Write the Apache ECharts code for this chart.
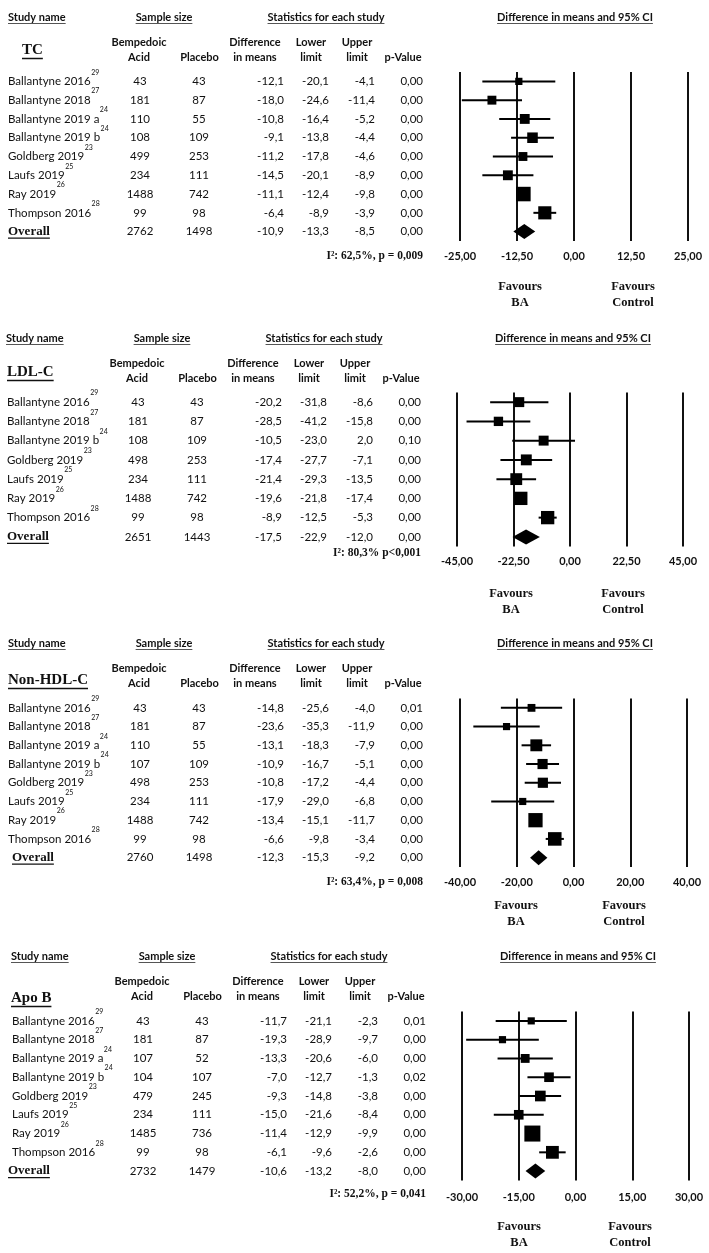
<!DOCTYPE html>
<html><head><meta charset="utf-8">
<script src="https://cdn.jsdelivr.net/npm/echarts@6/dist/echarts.min.js"></script>
<style>html,body{margin:0;padding:0;background:#fff}#c{width:709px;height:1253px}</style>
</head><body><div id="c"></div>
<script>
// ================= DATA =================
// --- TC ---
const tcStudies = ['Ballantyne 2016','Ballantyne 2018','Ballantyne 2019 a','Ballantyne 2019 b','Goldberg 2019','Laufs 2019','Ray 2019','Thompson 2016','Overall'];
const tcRefs = ['29','27','24','24','23','25','26','28',''];
const tcNBA = [43,181,110,108,499,234,1488,99,2762];
const tcNPl = [43,87,55,109,253,111,742,98,1498];
const tcDiff = [-12.1,-18.0,-10.8,-9.1,-11.2,-14.5,-11.1,-6.4,-10.9];
const tcLower = [-20.1,-24.6,-16.4,-13.8,-17.8,-20.1,-12.4,-8.9,-13.3];
const tcUpper = [-4.1,-11.4,-5.2,-4.4,-4.6,-8.9,-9.8,-3.9,-8.5];
const tcP = [0,0,0,0,0,0,0,0,0];
const tcWeight = [5.8,8.8,10.8,12.4,8.8,10.8,23.4,19.2];
const tcTicks = [-25,-12.5,0,12.5,25];
const tcHet = 'I²: 62,5%, p = 0,009';

// --- LDL-C ---
const ldlStudies = ['Ballantyne 2016','Ballantyne 2018','Ballantyne 2019 b','Goldberg 2019','Laufs 2019','Ray 2019','Thompson 2016','Overall'];
const ldlRefs = ['29','27','24','23','25','26','28',''];
const ldlNBA = [43,181,108,498,234,1488,99,2651];
const ldlNPl = [43,87,109,253,111,742,98,1443];
const ldlDiff = [-20.2,-28.5,-10.5,-17.4,-21.4,-19.6,-8.9,-17.5];
const ldlLower = [-31.8,-41.2,-23.0,-27.7,-29.3,-21.8,-12.5,-22.9];
const ldlUpper = [-8.6,-15.8,2.0,-7.1,-13.5,-17.4,-5.3,-12.0];
const ldlP = [0,0,0.10,0,0,0,0,0];
const ldlWeight = [11.0,9.7,11.0,13.2,15.6,19.7,19.7];
const ldlTicks = [-45,-22.5,0,22.5,45];
const ldlHet = 'I²: 80,3% p<0,001';

// --- Non-HDL-C ---
const nhStudies = ['Ballantyne 2016','Ballantyne 2018','Ballantyne 2019 a','Ballantyne 2019 b','Goldberg 2019','Laufs 2019','Ray 2019','Thompson 2016','Overall'];
const nhRefs = ['29','27','24','24','23','25','26','28',''];
const nhNBA = [43,181,110,107,498,234,1488,99,2760];
const nhNPl = [43,87,55,109,253,111,742,98,1498];
const nhDiff = [-14.8,-23.6,-13.1,-10.9,-10.8,-17.9,-13.4,-6.6,-12.3];
const nhLower = [-25.6,-35.3,-18.3,-16.7,-17.2,-29.0,-15.1,-9.8,-15.3];
const nhUpper = [-4.0,-11.9,-7.9,-5.1,-4.4,-6.8,-11.7,-3.4,-9.2];
const nhP = [0.01,0,0,0,0,0,0,0,0];
const nhWeight = [6.8,5.7,15.8,11.5,11.5,5.7,22.6,20.4];
const nhTicks = [-40,-20,0,20,40];
const nhHet = 'I²: 63,4%, p = 0,008';

// --- Apo B ---
const apoStudies = ['Ballantyne 2016','Ballantyne 2018','Ballantyne 2019 a','Ballantyne 2019 b','Goldberg 2019','Laufs 2019','Ray 2019','Thompson 2016','Overall'];
const apoRefs = ['29','27','24','24','23','25','26','28',''];
const apoNBA = [43,181,107,104,479,234,1485,99,2732];
const apoNPl = [43,87,52,107,245,111,736,98,1479];
const apoDiff = [-11.7,-19.3,-13.3,-7.0,-9.3,-15.0,-11.4,-6.1,-10.6];
const apoLower = [-21.1,-28.9,-20.6,-12.7,-14.8,-21.6,-12.9,-9.6,-13.2];
const apoUpper = [-2.3,-9.7,-6.0,-1.3,-3.8,-8.4,-9.9,-2.6,-8.0];
const apoP = [0.01,0,0,0.02,0,0,0,0,0];
const apoWeight = [5.7,5.7,8.7,10.3,12.7,10.3,28.5,18.2];
const apoTicks = [-30,-15,0,15,30];
const apoHet = 'I²: 52,2%, p = 0,041';

const panelLabels = ['TC','LDL-C','Non-HDL-C','Apo B'];

// ================= LAYOUT =================
const INK = '#111';
const SANS = 'Lato';
const SERIF = '"Liberation Serif"';
const fSans = '11.5px ' + SANS;
const fSansB = 'bold 11px ' + SANS;
const fSup = '7px ' + SANS;
const fLabel = 'bold 15px ' + SERIF;
const fOverall = 'bold 13px ' + SERIF;
const fHet = 'bold 11.5px ' + SERIF;
const fFav = 'bold 12.5px ' + SERIF;

const layouts = [
  {head:17, sub1:42, sub2:57, labelX:22, labelY:50, top:72, bottom:241, left:460, right:688, hetY:256, tickMargin:10, favY:[287,303], favX:[520,633], dx:0, ovX:8, nameX:8},
  {head:338, sub1:363, sub2:378, labelX:7, labelY:372, top:392.5, bottom:546.5, left:457, right:683, hetY:553, tickMargin:9, favY:[594,610], favX:[511,623], dx:-2, ovX:7, nameX:7},
  {head:643, sub1:668, sub2:683, labelX:8, labelY:680, top:698.5, bottom:867, left:460, right:687, hetY:882, tickMargin:9.5, favY:[906,922], favX:[516,624], dx:0, ovX:12, nameX:8},
  {head:956, sub1:981, sub2:996, labelX:11, labelY:998, top:1011.5, bottom:1180.5, left:462, right:689, hetY:1194, tickMargin:11, favY:[1227,1243], favX:[519,630], dx:3, ovX:8, nameX:12}
];

const panels = [
  {studies:tcStudies, refs:tcRefs, nBA:tcNBA, nPl:tcNPl, diff:tcDiff, lo:tcLower, hi:tcUpper, p:tcP, w:tcWeight, ticks:tcTicks, het:tcHet},
  {studies:ldlStudies, refs:ldlRefs, nBA:ldlNBA, nPl:ldlNPl, diff:ldlDiff, lo:ldlLower, hi:ldlUpper, p:ldlP, w:ldlWeight, ticks:ldlTicks, het:ldlHet},
  {studies:nhStudies, refs:nhRefs, nBA:nhNBA, nPl:nhNPl, diff:nhDiff, lo:nhLower, hi:nhUpper, p:nhP, w:nhWeight, ticks:nhTicks, het:nhHet},
  {studies:apoStudies, refs:apoRefs, nBA:apoNBA, nPl:apoNPl, diff:apoDiff, lo:apoLower, hi:apoUpper, p:apoP, w:apoWeight, ticks:apoTicks, het:apoHet}
];

// column positions (base, shifted per panel)
const COL = {cBA:140, cPl:199, rDiff:284, rLo:329, rHi:375, rP:423,
             hStudy:8, cSample:164, cStats:326, cCI:575,
             hBA:139, hPl:199.5, hDiff:255, hLo:311, hHi:357, hP:403, rHet:423};

const ctx = document.createElement('canvas').getContext('2d');
function tw(s, font){ ctx.font = font; return ctx.measureText(s).width; }
const fmt1 = v => v.toFixed(1).replace('.', ',');
const fmt2 = v => v.toFixed(2).replace('.', ',');

function txt(x, y, s, font, align, extra){
  return Object.assign({type:'text', x:x, y:y, silent:true,
    style:{text:s, font:font, fill:INK, align:align || 'left', verticalAlign:'middle'}}, extra || {});
}
function ln(x1, y1, x2, y2, w, color){
  return {type:'line', silent:true, shape:{x1:x1, y1:y1, x2:x2, y2:y2}, style:{stroke:color || INK, lineWidth:w}};
}

// ================= OPTION =================
const grids = [], xAxes = [], yAxes = [], series = [], graphics = [];

panels.forEach((P, k) => {
  const L = layouts[k];
  const dx = L.dx;
  grids.push({left:L.left, top:L.top, width:L.right - L.left, height:L.bottom - L.top});
  xAxes.push({
    gridIndex:k, type:'value', min:P.ticks[0], max:P.ticks[P.ticks.length-1],
    interval:P.ticks[1] - P.ticks[0],
    axisLine:{show:false}, axisTick:{show:false},
    splitLine:{show:true, showMinLine:true, showMaxLine:true, lineStyle:{color:INK, width:2}},
    axisLabel:{margin:L.tickMargin, fontFamily:SANS, fontWeight:'bold', fontSize:11, color:INK,
      formatter:v => fmt2(v)}
  });
  yAxes.push({gridIndex:k, type:'category', data:P.studies, inverse:true, show:false});

  const nRows = P.studies.length;
  // forest marks
  series.push({
    type:'custom', xAxisIndex:k, yAxisIndex:k, silent:true, clip:false,
    encode:{x:[0,1,2], y:3},
    data:P.studies.map((s, i) => [P.diff[i], P.lo[i], P.hi[i], i, i < nRows - 1 ? P.w[i] : 0]),
    renderItem:function(params, api){
      const i = params.dataIndex;
      const m = api.coord([api.value(0), api.value(3)]);
      const a = api.coord([api.value(1), api.value(3)]);
      const b = api.coord([api.value(2), api.value(3)]);
      if (i === nRows - 1) {
        const h = 7.5;
        return {type:'polygon', shape:{points:[[a[0], m[1]], [m[0], m[1]-h], [b[0], m[1]], [m[0], m[1]+h]]},
                style:{fill:'#000'}};
      }
      const side = 3.0 * Math.sqrt(api.value(4));
      return {type:'group', children:[
        {type:'line', shape:{x1:a[0], y1:a[1], x2:b[0], y2:b[1]}, style:{stroke:'#000', lineWidth:2}},
        {type:'rect', shape:{x:m[0]-side/2, y:m[1]-side/2, width:side, height:side}, style:{fill:'#000'}}
      ]};
    }
  });

  // table rows
  series.push({
    type:'custom', xAxisIndex:k, yAxisIndex:k, silent:true, clip:false,
    encode:{x:0, y:1},
    data:P.studies.map((s, i) => [P.ticks[0], i]),
    renderItem:function(params, api){
      const i = params.dataIndex;
      const y = api.coord([api.value(0), api.value(1)])[1];
      const ch = [];
      if (i === nRows - 1) {
        ch.push(txt(L.ovX, y, P.studies[i], fOverall, 'left'));
        ch.push(ln(L.ovX, y + 6.5, L.ovX + tw(P.studies[i], fOverall), y + 6.5, 1.3));
      } else {
        ch.push(txt(L.nameX, y, P.studies[i], fSans, 'left'));
        ch.push(txt(L.nameX + tw(P.studies[i], fSans) + 0.5, y - 9, P.refs[i], fSup, 'left'));
      }
      ch.push(txt(COL.cBA + dx, y, String(P.nBA[i]), fSans, 'center'));
      ch.push(txt(COL.cPl + dx, y, String(P.nPl[i]), fSans, 'center'));
      ch.push(txt(COL.rDiff + dx, y, fmt1(P.diff[i]), fSans, 'right'));
      ch.push(txt(COL.rLo + dx, y, fmt1(P.lo[i]), fSans, 'right'));
      ch.push(txt(COL.rHi + dx, y, fmt1(P.hi[i]), fSans, 'right'));
      ch.push(txt(COL.rP + dx, y, fmt2(P.p[i]), fSans, 'right'));
      return {type:'group', children:ch};
    }
  });

  // headers
  const hdr = [
    ['Study name', COL.hStudy + dx, 'left'],
    ['Sample size', COL.cSample + dx, 'center'],
    ['Statistics for each study', COL.cStats + dx, 'center'],
    ['Difference in means and 95% CI', COL.cCI + dx, 'center']
  ];
  hdr.forEach(h => {
    const w = tw(h[0], fSansB);
    const x0 = h[2] === 'left' ? h[1] : h[1] - w / 2;
    graphics.push(txt(h[1], L.head, h[0], fSansB, h[2]));
    graphics.push(ln(x0, L.head + 6.5, x0 + w, L.head + 6.5, 1, '#555'));
  });
  graphics.push(txt(COL.hBA + dx, L.sub1, 'Bempedoic', fSansB, 'center'));
  graphics.push(txt(COL.hBA + dx, L.sub2, 'Acid', fSansB, 'center'));
  graphics.push(txt(COL.hPl + dx, L.sub2, 'Placebo', fSansB, 'center'));
  graphics.push(txt(COL.hDiff + dx, L.sub1, 'Difference', fSansB, 'center'));
  graphics.push(txt(COL.hDiff + dx, L.sub2, 'in means', fSansB, 'center'));
  graphics.push(txt(COL.hLo + dx, L.sub1, 'Lower', fSansB, 'center'));
  graphics.push(txt(COL.hLo + dx, L.sub2, 'limit', fSansB, 'center'));
  graphics.push(txt(COL.hHi + dx, L.sub1, 'Upper', fSansB, 'center'));
  graphics.push(txt(COL.hHi + dx, L.sub2, 'limit', fSansB, 'center'));
  graphics.push(txt(COL.hP + dx, L.sub2, 'p-Value', fSansB, 'center'));

  // panel label
  const lw = tw(panelLabels[k], fLabel);
  graphics.push(txt(L.labelX, L.labelY, panelLabels[k], fLabel, 'left'));
  graphics.push(ln(L.labelX, L.labelY + 8.5, L.labelX + lw, L.labelY + 8.5, 1.5));

  // heterogeneity
  graphics.push(txt(COL.rHet + dx, L.hetY, P.het, fHet, 'right'));

  // favours
  graphics.push(txt(L.favX[0], L.favY[0], 'Favours', fFav, 'center'));
  graphics.push(txt(L.favX[0], L.favY[1], 'BA', fFav, 'center'));
  graphics.push(txt(L.favX[1], L.favY[0], 'Favours', fFav, 'center'));
  graphics.push(txt(L.favX[1], L.favY[1], 'Control', fFav, 'center'));
});

const chart = echarts.init(document.getElementById('c'), null, {renderer:'canvas', width:709, height:1253});
chart.setOption({
  backgroundColor:'#fff',
  animation:false,
  grid:grids, xAxis:xAxes, yAxis:yAxes, series:series,
  graphic:{elements:graphics}
});
</script>
</body></html>
